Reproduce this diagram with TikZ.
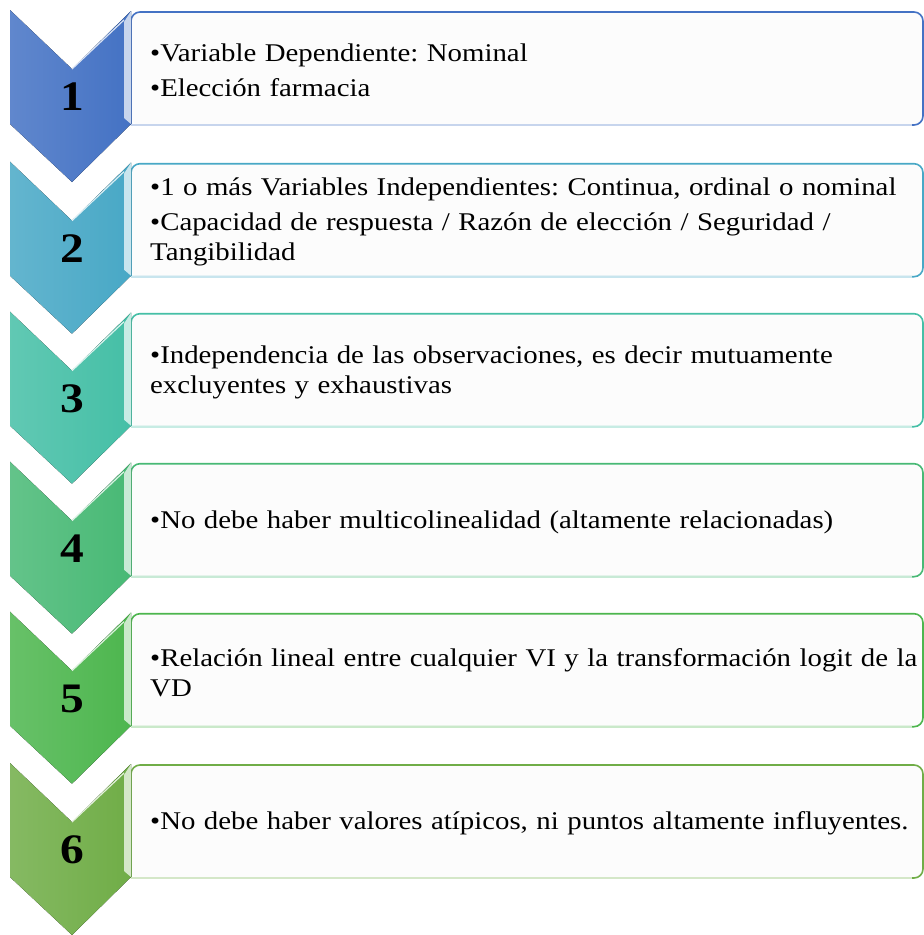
\documentclass[tikz,border=0pt]{standalone}
\usepackage{fontspec}
\setmainfont{Liberation Serif}[FakeStretch=1.13]
\usepackage{tikz}
\usetikzlibrary{positioning}
\usepackage{xcolor}
\definecolor{cOne}{HTML}{4472C4}
\definecolor{cTwo}{HTML}{48A8C6}
\definecolor{cThree}{HTML}{45BFA6}
\definecolor{cFour}{HTML}{48B975}
\definecolor{cFive}{HTML}{4DB64E}
\definecolor{cSix}{HTML}{70AD47}
\definecolor{boxbg}{HTML}{FCFCFC}
\newlength{\bulw}
\newcommand{\bul}[1]{\par\settowidth{\bulw}{•}\noindent\hangindent=\bulw\hangafter=1 •#1}
\frenchspacing

\begin{document}
\begin{tikzpicture}[x=1pt, y=-1pt,
  numlab/.style={font=\fontsize{42}{42}\selectfont\bfseries, inner sep=0pt},
  txtlab/.style={anchor=west, text width=800pt, align=left, inner sep=0pt,
    font=\fontsize{25.5}{30}\selectfont,
    execute at begin node={\setlength{\parskip}{5pt}}}]
  \useasboundingbox[fill=white] (0,0) rectangle (924,935);
  \foreach \y/\col/\num/\txt in {
      10/cOne/1/{\bul{Variable Dependiente: Nominal}\bul{Elección farmacia}},
      161.7/cTwo/2/{\bul{1 o más Variables Independientes: Continua, ordinal o nominal}\bul{Capacidad de respuesta / Razón de elección / Seguridad /\newline Tangibilidad}},
      311.7/cThree/3/{\bul{Independencia de las observaciones, es decir mutuamente\newline excluyentes y exhaustivas}},
      461.7/cFour/4/{\bul{No debe haber multicolinealidad (altamente relacionadas)}},
      611.7/cFive/5/{\bul{Relación lineal entre cualquier VI y la transformación logit de la\newline VD}},
      763/cSix/6/{\bul{No debe haber valores atípicos, ni puntos altamente influyentes.}}}{
    % text box, rounded on the right only
    \fill[boxbg, rounded corners=9pt] (131,\y+2) -- (923,\y+2) -- (923,\y+115) -- (131,\y+115) -- cycle;
    \draw[\col, line width=1.6pt, rounded corners=9pt] (131,\y+115) -- (131,\y+2) -- (923,\y+2) -- (923,\y+115) -- (131,\y+115);
    \draw[\col!30, line width=1.6pt] (131,\y+115) -- (912,\y+115);
    % chevron with a light bevel on the right
    \fill[left color=\col!85!white, right color=\col] (10,\y) -- (72,\y+59) -- (131,\y+1) -- (131,\y+114) -- (72,\y+172) -- (10,\y+114) -- cycle;
    \fill[\col!30!white] (131,\y+1) -- (131,\y+114) -- (124,\y+108) -- (124,\y+12) -- cycle;
    \draw[\col!20!white, line width=1.2pt] (72,\y+59) -- (124,\y+10);
    \node[numlab] (num\num) at (72,\y+87) {\num};
    \node[txtlab] (txt\num) at (150,\y+52) {\txt};
  }
\end{tikzpicture}
\end{document}
